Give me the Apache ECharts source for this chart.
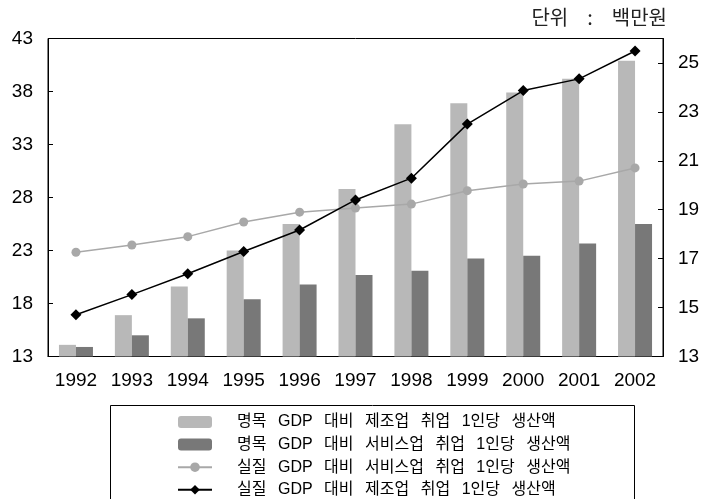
<!DOCTYPE html>
<html>
<head>
<meta charset="utf-8">
<script src="https://cdn.jsdelivr.net/npm/echarts@6/dist/echarts.min.js"></script>
<style>
  html, body { margin: 0; padding: 0; background: #fff; }
  #chart { width: 704px; height: 499px; }
</style>
</head>
<body>
<div id="chart"></div>
<script>
// 연도
const years = ['1992', '1993', '1994', '1995', '1996', '1997', '1998', '1999', '2000', '2001', '2002'];

// 명목 GDP 기준 (왼쪽 축)
const nominalManufacturing = [14.1, 16.9, 19.6, 23.0, 25.5, 28.8, 34.9, 36.9, 37.9, 39.2, 40.9];
const nominalServices = [13.9, 15.0, 16.6, 18.4, 19.8, 20.7, 21.1, 22.25, 22.5, 23.65, 25.5];

// 실질 GDP 기준 (오른쪽 축)
const realServices = [17.26, 17.56, 17.9, 18.5, 18.9, 19.07, 19.23, 19.78, 20.05, 20.17, 20.71];
const realManufacturing = [14.71, 15.53, 16.38, 17.29, 18.17, 19.4, 20.29, 22.5, 23.87, 24.35, 25.49];

const seriesNames = [
  '명목 GDP 대비 제조업 취업 1인당 생산액',
  '명목 GDP 대비 서비스업 취업 1인당 생산액',
  '실질 GDP 대비 서비스업 취업 1인당 생산액',
  '실질 GDP 대비 제조업 취업 1인당 생산액'
];

const unitWords = ['단위', ':', '백만원'];

const FONT = '"Liberation Sans", "Noto Sans CJK KR", sans-serif';
const KR_FONT = '"Noto Sans CJK KR", sans-serif';

// 단어 사이 간격을 넓게 벌린 rich 텍스트
function spaced(words) {
  return words.join('{sp| }');
}

const chart = echarts.init(document.getElementById('chart'), null, { renderer: 'canvas' });

chart.setOption({
  animation: false,
  backgroundColor: '#ffffff',
  textStyle: { fontFamily: FONT },
  grid: {
    left: 48, right: 41, top: 38.5, bottom: 142.5,
    show: true, borderColor: '#000', borderWidth: 1, backgroundColor: 'transparent'
  },
  graphic: [
    {
      type: 'text', right: 37, top: 7,
      style: {
        text: spaced(unitWords),
        fontSize: 20, fill: '#222', fontFamily: KR_FONT,
        rich: { sp: { width: 19, fontSize: 20 } }
      }
    },
    {
      type: 'rect', left: 108, top: 403, z: -1,
      shape: { width: 524, height: 110 },
      style: { fill: 'none', stroke: '#000', lineWidth: 1 }
    }
  ],
  legend: {
    orient: 'vertical',
    left: 177, top: 414,
    itemWidth: 34, itemHeight: 12, itemGap: 6.6,
    padding: 0,
    selectedMode: false,
    formatter: name => spaced(name.split(' ')),
    textStyle: {
      fontSize: 16, color: '#000', fontFamily: FONT, lineHeight: 16,
      padding: [0, 0, 0, 20],
      rich: { sp: { width: 11.5, fontSize: 16, lineHeight: 16 } }
    },
    data: seriesNames
  },
  xAxis: {
    type: 'category',
    data: years,
    boundaryGap: true,
    axisLine: { lineStyle: { color: '#000', width: 1 } },
    axisTick: { inside: true, length: 5, lineStyle: { color: '#000' } },
    axisLabel: { color: '#000', fontSize: 19, margin: 15, fontFamily: FONT }
  },
  yAxis: [
    {
      type: 'value', min: 13, max: 43, interval: 5, position: 'left',
      axisLine: { show: true, lineStyle: { color: '#000' } },
      axisTick: { show: true, inside: true, length: 5, lineStyle: { color: '#000' } },
      axisLabel: { color: '#000', fontSize: 19, margin: 15, fontFamily: FONT },
      splitLine: { show: false }
    },
    {
      type: 'value', min: 13, max: 26, interval: 2, position: 'right',
      axisLine: { show: true, lineStyle: { color: '#000' } },
      axisTick: { show: true, inside: true, length: 5, lineStyle: { color: '#000' } },
      axisLabel: { color: '#000', fontSize: 19, margin: 15, fontFamily: FONT, showMaxLabel: false },
      splitLine: { show: false }
    }
  ],
  series: [
    {
      name: seriesNames[0], type: 'bar', yAxisIndex: 0,
      data: nominalManufacturing, barWidth: 17, barGap: '0%',
      itemStyle: { color: '#b8b8b8' }
    },
    {
      name: seriesNames[1], type: 'bar', yAxisIndex: 0,
      data: nominalServices, barWidth: 17, barGap: '0%',
      itemStyle: { color: '#787878' }
    },
    {
      name: seriesNames[2], type: 'line', yAxisIndex: 1,
      data: realServices,
      symbol: 'circle', symbolSize: 9,
      lineStyle: { color: '#a8a8a8', width: 1.5 },
      itemStyle: { color: '#a8a8a8' }
    },
    {
      name: seriesNames[3], type: 'line', yAxisIndex: 1,
      data: realManufacturing,
      symbol: 'diamond', symbolSize: 11,
      lineStyle: { color: '#000', width: 1.5 },
      itemStyle: { color: '#000' }
    }
  ]
});
</script>
</body>
</html>
